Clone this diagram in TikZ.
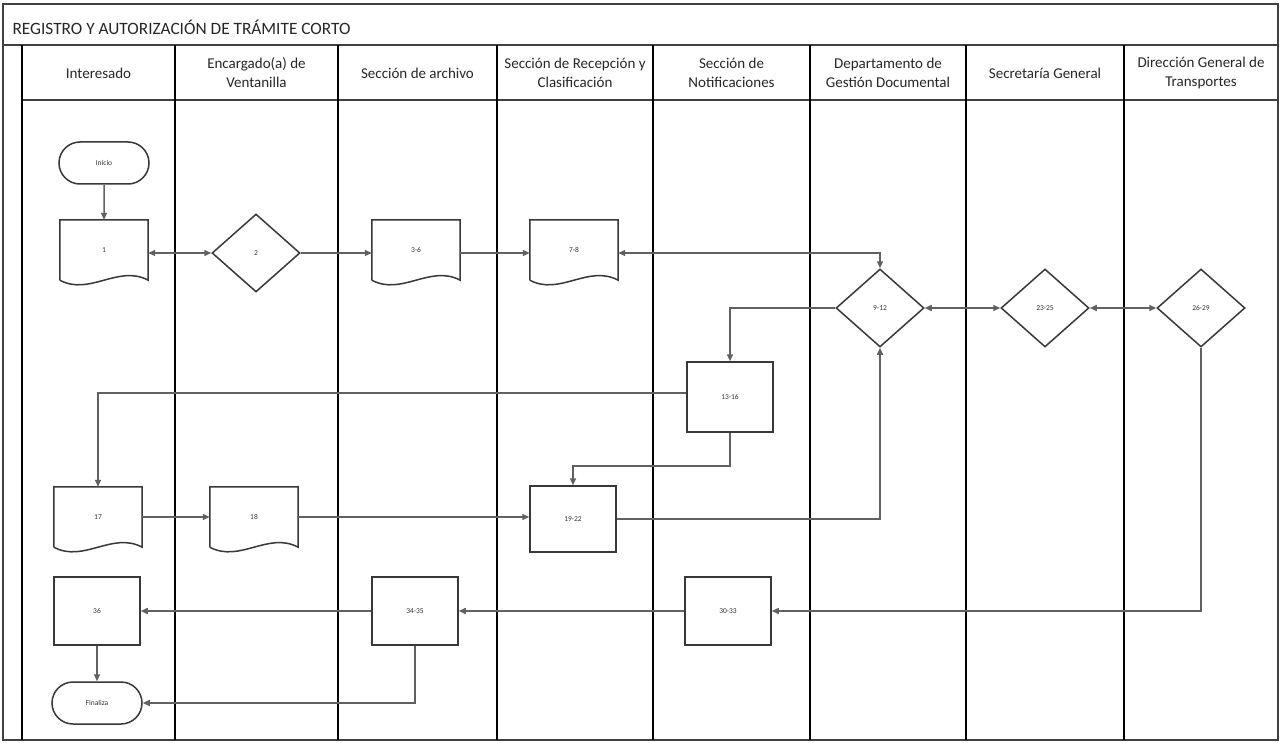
\documentclass[tikz,border=0pt]{standalone}
\usepackage{fontspec}
\setmainfont{Carlito}
\usetikzlibrary{shapes.geometric,shapes.misc,arrows.meta}
\begin{document}
\begin{tikzpicture}[x=1pt,y=-1pt,
  lane/.style={draw=black, line width=1.8pt},
  frame/.style={draw=black!75, line width=1.4pt},
  shapeline/.style={draw=black!78, line width=1.5pt},
  lbl/.style={font=\fontsize{7.5}{8}\selectfont, text=black!80},
  docbox/.style={rectangle, minimum width=88pt, minimum height=60pt, inner sep=0pt, lbl},
  procbox/.style={rectangle, shapeline, fill=white, minimum width=86pt, minimum height=66pt, inner sep=0pt, lbl},
  decision/.style={diamond, shapeline, fill=white, minimum width=88pt, minimum height=78pt, inner sep=0pt, lbl},
  terminal/.style={rounded rectangle, shapeline, fill=white, minimum width=90pt, minimum height=42pt, inner sep=0pt, lbl},
  head/.style={align=center, font=\fontsize{15}{19}\selectfont, text=black!85},
  flow/.style={draw=black!62, line width=1.5pt, -{Triangle[length=7pt,width=6pt]}},
  flowboth/.style={draw=black!62, line width=1.5pt, {Triangle[length=7pt,width=6pt]}-{Triangle[length=7pt,width=6pt]}}
]
\useasboundingbox (0,0) rectangle (1281,743);

% frame, title bar and header row
\draw[frame] (3,4) rectangle (1278,740);
\draw[frame] (3,45) -- (1278,45);
\draw[frame] (22,100) -- (1278,100);
\draw[lane] (22,45) -- (22,740);
\foreach \x in {175,338,497,653,810,966,1124}
  \draw[lane] (\x,45) -- (\x,740);

\node[anchor=west, font=\fontsize{17.3}{20}\selectfont, text=black!85] (title) at (9,27)
  {REGISTRO Y AUTORIZACIÓN DE TRÁMITE CORTO};

\node[head] (h1) at (98.5,73) {Interesado};
\node[head] (h2) at (256.5,73) {Encargado(a) de\\Ventanilla};
\node[head] (h3) at (417.5,73) {Sección de archivo};
\node[head] (h4) at (575,73) {Sección de Recepción y\\Clasificación};
\node[head] (h5) at (731.5,73) {Sección de\\Notificaciones};
\node[head] (h6) at (888,73) {Departamento de\\Gestión Documental};
\node[head] (h7) at (1045,73) {Secretaría General};
\node[head] (h8) at (1201,73) {Dirección General de\\Transportes};

% flow nodes
\node[terminal] (ini) at (104,163) {Inicio};
\node[docbox] (d1) at (104,250) {1};
\node[decision] (q2) at (256,253) {2};
\node[docbox] (d36) at (416,250) {3-6};
\node[docbox] (d78) at (574,250) {7-8};
\node[decision] (q912) at (880,308) {9-12};
\node[decision] (q2325) at (1045,308) {23-25};
\node[decision] (q2629) at (1201,308) {26-29};
\node[procbox, minimum height=70pt] (p1316) at (730,397) {13-16};
\node[docbox] (d17) at (98,517) {17};
\node[docbox] (d18) at (254,517) {18};
\node[procbox] (p1922) at (573,519) {19-22};
\node[procbox, minimum height=68pt] (p36) at (97,611) {36};
\node[procbox, minimum height=68pt] (p3435) at (415,611) {34-35};
\node[procbox, minimum height=68pt] (p3033) at (728,611) {30-33};
\node[terminal] (fin) at (97,703) {Finaliza};

% document outlines: straight top and sides, wavy bottom edge
\foreach \n in {d1,d36,d78,d17,d18}
  \draw[shapeline] (\n.south west) -- (\n.north west) -- (\n.north east) -- (\n.south east)
    .. controls +(-30,-16) and +(30,16) .. (\n.south west);

% connectors
\draw[flow] (ini) -- (d1);
\draw[flowboth] (d1.east |- q2.west) -- (q2.west);
\draw[flow] (q2.east) -- (d36.west |- q2.east);
\draw[flow] (d36.east |- q2.east) -- (d78.west |- q2.east);
\draw[flowboth] (d78.east |- q2.east) -| (q912.north);
\draw[flow] (q912.west) -| (p1316.north);
\draw[flowboth] (q912.east) -- (q2325.west);
\draw[flowboth] (q2325.east) -- (q2629.west);
\draw[flow] ([yshift=4pt]p1316.west) -| (d17.north);
\draw[flow] (p1316.south) -- ++(0,33) -| (p1922.north);
\draw[flow] (d17.east) -- (d18.west);
\draw[flow] (d18.east) -- (p1922.west |- d18.east);
\draw[flow] (p1922.east) -| (q912.south);
\draw[flow] (q2629.south) |- (p3033.east);
\draw[flow] (p3033.west) -- (p3435.east);
\draw[flow] (p3435.west) -- (p36.east);
\draw[flow] (p36.south) -- (fin.north);
\draw[flow] (p3435.south) |- (fin.east);
\end{tikzpicture}
\end{document}
